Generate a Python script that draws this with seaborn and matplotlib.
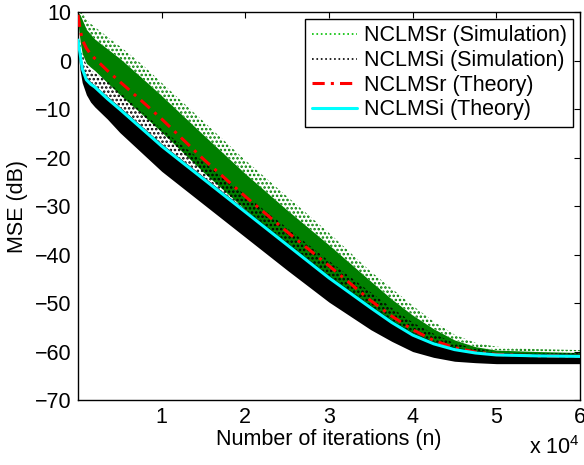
import matplotlib
matplotlib.use("Agg")
import matplotlib.pyplot as plt
import seaborn as sns
from matplotlib.lines import Line2D

# iteration grid
x_iter = [0, 250, 500, 1000, 1500, 2000, 3500, 5000, 7500, 10000, 15000,
          20000, 25000, 30000, 35000, 37500, 40000, 42500, 45000, 47500,
          50000, 55000, 60000]

# theory curves (dB)
theory_r = [9.5, 6.5, 4.4, 2.6, 1.4, 0.5, -2.0, -4.3, -8.1, -12.0, -20.3,
            -28.0, -35.3, -42.3, -49.5, -52.7, -55.5, -57.7, -59.2, -60.1,
            -60.6, -60.9, -61.0]
theory_i = [4.3, 1.5, -1.6, -3.9, -4.8, -5.4, -7.8, -10.0, -13.8, -17.6, -24.4,
            -31.2, -38.0, -44.8, -51.0, -54.0, -56.6, -58.4, -59.6, -60.3,
            -60.7, -60.9, -61.0]

# simulation spread for NCLMSr (dense core and sparse top edge)
sim_r_low = [8.0, 4.0, 1.5, -0.5, -1.3, -2.0, -4.5, -7.0, -10.8, -14.7, -23.0,
             -30.7, -38.0, -45.0, -51.8, -54.8, -57.3, -59.0, -60.2, -60.8,
             -61.0, -61.1, -61.2]
sim_r_high = [10.0, 9.5, 8.5, 6.5, 5.5, 4.5, 2.5, 0.5, -3.3, -7.2, -15.3,
              -23.3, -30.8, -38.0, -45.5, -49.2, -52.5, -55.3, -57.6, -59.0,
              -59.7, -60.0, -60.2]
sim_r_top = [10.0, 10.0, 10.0, 8.5, 7.7, 7.0, 5.0, 3.0, -0.5, -4.5, -12.5,
             -20.5, -28.0, -35.5, -43.5, -47.0, -50.5, -53.8, -56.5, -58.2,
             -59.0, -59.5, -59.7]

# simulation spread for NCLMSi
sim_i_low = [2.0, -2.0, -4.5, -7.0, -8.5, -9.5, -12.0, -14.8, -18.8, -22.8,
             -29.6, -36.4, -43.2, -49.8, -55.5, -57.9, -60.0, -61.2, -62.0,
             -62.3, -62.5, -62.5, -62.5]
sim_i_high = [4.8, 1.5, -1.0, -3.3, -4.3, -5.0, -7.3, -9.5, -13.3, -17.1,
              -23.9, -30.7, -37.5, -44.3, -50.5, -53.5, -56.1, -57.9, -59.1,
              -59.8, -60.2, -60.4, -60.5]
sim_i_top = [6.0, 4.0, 1.5, -0.8, -1.8, -2.5, -4.2, -6.5, -10.3, -14.1,
             -20.9, -27.7, -34.5, -41.3, -47.8, -51.0, -54.0, -56.3, -58.3,
             -59.4, -60.0, -60.3, -60.3]

labels = ["NCLMSr (Simulation)", "NCLMSi (Simulation)",
          "NCLMSr (Theory)", "NCLMSi (Theory)"]
x_ticks = [10000, 20000, 30000, 40000, 50000, 60000]
x_ticklabels = ["1", "2", "3", "4", "5", "6"]
y_ticks = [-70, -60, -50, -40, -30, -20, -10, 0, 10]

sns.set_style("white")
plt.rcParams["font.family"] = ["Liberation Sans", "DejaVu Sans"]
plt.rcParams["mathtext.default"] = "regular"
plt.rcParams["hatch.linewidth"] = 1.2
plt.rcParams["text.color"] = "black"
plt.rcParams["axes.labelcolor"] = "black"

green = "#008000"
fs = 15.5

fig = plt.figure(figsize=(5.84, 4.65), dpi=100)
ax = fig.add_axes([0.1336, 0.1398, 0.8596, 0.8335])

# simulation bands
ax.fill_between(x_iter, sim_r_high, sim_r_top, facecolor="none",
                edgecolor=green, hatch="....", linewidth=0, zorder=1)
ax.fill_between(x_iter, sim_r_low, sim_r_high, color=green, linewidth=0, zorder=1)
ax.fill_between(x_iter, sim_i_high, sim_i_top, facecolor="none",
                edgecolor="black", hatch="....", linewidth=0, zorder=2)
ax.fill_between(x_iter, sim_i_low, sim_i_high, color="black", linewidth=0, zorder=2)

# theory curves
sns.lineplot(x=x_iter, y=theory_r, ax=ax, color="red", linewidth=2.2, zorder=3)
ax.lines[-1].set_dashes([4, 2, 1, 2])
sns.lineplot(x=x_iter, y=theory_i, ax=ax, color="#00ffff", linewidth=2.2, zorder=4)

ax.set_xlim(0, 60000)
ax.set_ylim(-70, 10)
ax.set_xticks(x_ticks)
ax.set_xticklabels(x_ticklabels)
ax.set_yticks(y_ticks)
ax.tick_params(direction="in", length=4, width=0.8, labelsize=fs,
               top=True, right=True, pad=5, colors="black")
for s in ax.spines.values():
    s.set_color("black")
    s.set_linewidth(1.0)

ax.set_xlabel("Number of iterations (n)", fontsize=fs, labelpad=1)
ax.set_ylabel("MSE (dB)", fontsize=fs, labelpad=5)
fig.text(0.993, 0.012, "x 10$^4$", ha="right", va="bottom", fontsize=fs)

handles = [
    Line2D([], [], color="#00c000", linestyle=":", linewidth=1.2),
    Line2D([], [], color="black", linestyle=":", linewidth=1.2),
    Line2D([], [], color="red", linewidth=2.2, dashes=[4, 2, 1, 2]),
    Line2D([], [], color="#00ffff", linewidth=2.2),
]
leg = ax.legend(handles, labels, loc="upper right",
                bbox_to_anchor=(573 / 584, 1 - 19 / 465),
                bbox_transform=fig.transFigure, borderaxespad=0,
                fontsize=fs, frameon=True, fancybox=False, framealpha=1,
                edgecolor="black", handlelength=2.1, handletextpad=0.3,
                labelspacing=0.17, borderpad=0.3)
leg.get_frame().set_linewidth(1.0)

fig.savefig("out.png", dpi=100)
